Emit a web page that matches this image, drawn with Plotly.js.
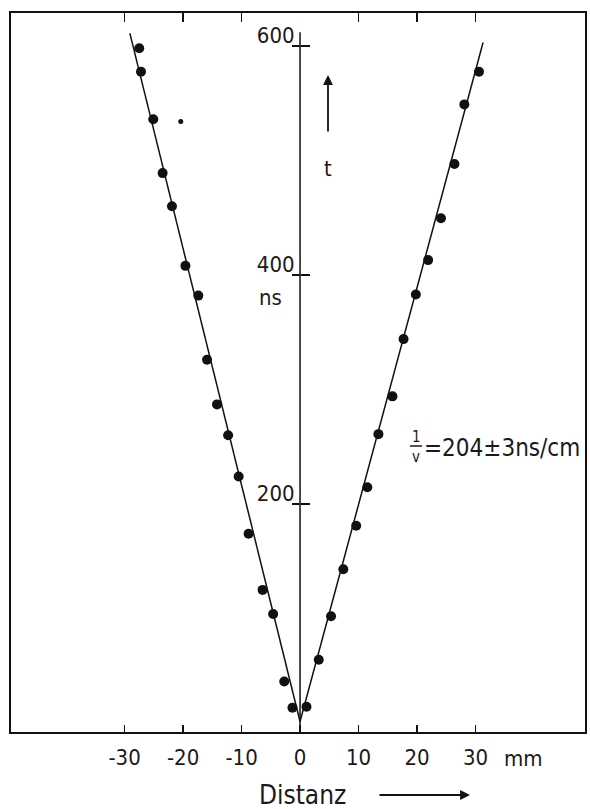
<!DOCTYPE html>
<html>
<head>
<meta charset="utf-8">
<script src="https://cdn.plot.ly/plotly-3.0.1.min.js"></script>
<style>html,body{margin:0;padding:0;background:#fff;}#chart{width:590px;height:809px;}</style>
</head>
<body>
<div id="chart"></div>
<script>
// ---- data (x in mm, t in ns) ----
var leftX  = [-27.5, -27.2, -25.1, -23.5, -21.9, -19.6, -17.4, -15.9, -14.2, -12.3, -10.5, -8.8, -6.4, -4.6, -2.7, -1.3];
var leftT  = [598, 577.5, 536, 489, 460, 408, 382, 326, 287, 260, 224, 174, 125, 104, 45, 22];
var rightX = [30.6, 28.1, 26.4, 24.1, 21.9, 19.8, 17.7, 15.8, 13.4, 11.5, 9.6, 7.4, 5.3, 3.2, 1.1];
var rightT = [577.5, 549, 497, 449.5, 413, 383, 344, 294, 261, 214.6, 181, 143, 102, 64, 23];
var strayX = [-20.4];
var strayT = [534];
var fitLeftX  = [0, -29.1];
var fitLeftT  = [10, 611];
var fitRightX = [0, 31.3];
var fitRightT = [10, 603];
var xTickVals = [-30, -20, -10, 0, 10, 20, 30];
var xTickText = ['-30', '-20', '-10', '0', '10', '20', '30'];
var xTopTickVals = [-30, -20, -10, 10, 20, 30];
var yTickVals = [200, 400, 600];
var yTickText = ['200', '400', '600'];

var FONT = '"DejaVu Sans Condensed", "Liberation Sans Narrow", "DejaVu Sans", sans-serif';
var INK = '#1a1a1a';
var xr = [-49.6, 48.9];
var yr = [0, 629.7];
var yPos = (0 - xr[0]) / (xr[1] - xr[0]);

// pixel -> paper helpers (plot area: x 10..586, y 12..733)
function px(x) { return (x - 10) / 576; }
function py(y) { return (733 - y) / 721; }

var dotStyle = {color: '#111', size: 10, symbol: 'circle'};
var traces = [
  {x: fitLeftX, y: fitLeftT, mode: 'lines', line: {color: '#111', width: 1.5}, xaxis: 'x2', yaxis: 'y2', hoverinfo: 'skip'},
  {x: fitRightX, y: fitRightT, mode: 'lines', line: {color: '#111', width: 1.5}, xaxis: 'x2', yaxis: 'y2', hoverinfo: 'skip'},
  {x: leftX, y: leftT, mode: 'markers', marker: dotStyle},
  {x: rightX, y: rightT, mode: 'markers', marker: dotStyle},
  {x: strayX, y: strayT, mode: 'markers', marker: {color: '#111', size: 5}}
];

var axBase = {showgrid: false, zeroline: false, fixedrange: true, tickcolor: '#111', tickwidth: 1.5};

function txt(x, y, text, size, extra) {
  return Object.assign({xref: 'paper', yref: 'paper', x: x, y: y, text: text, showarrow: false,
    xanchor: 'center', yanchor: 'middle', font: {size: size, family: FONT, color: INK}}, extra || {});
}

var layout = {
  width: 590, height: 809,
  margin: {l: 10, r: 4, t: 12, b: 76},
  paper_bgcolor: '#fff', plot_bgcolor: '#fff',
  showlegend: false,
  font: {family: FONT, color: INK},
  xaxis: Object.assign({}, axBase, {
    range: xr, showline: false, ticks: 'inside', ticklen: 8,
    tickvals: xTickVals, ticktext: xTickText, tickfont: {size: 22, family: FONT, color: INK},
    ticklabelstandoff: 9
  }),
  yaxis: Object.assign({}, axBase, {
    range: yr, anchor: 'free', position: yPos, side: 'left', showline: false,
    ticks: 'outside', ticklen: 8, tickvals: yTickVals, ticktext: yTickText,
    tickfont: {size: 22, family: FONT, color: INK},
    ticklabelshift: -11, ticklabelstandoff: -7
  }),
  xaxis2: Object.assign({}, axBase, {
    range: xr, overlaying: 'x', side: 'top', anchor: 'y2', showline: false,
    ticks: 'inside', ticklen: 10, tickvals: xTopTickVals, showticklabels: false
  }),
  yaxis2: Object.assign({}, axBase, {
    range: yr, overlaying: 'y', anchor: 'free', position: yPos, side: 'right', showline: false,
    ticks: 'outside', ticklen: 9, tickvals: yTickVals, showticklabels: false
  }),
  shapes: [
    {type: 'rect', xref: 'paper', yref: 'paper', x0: 0, x1: 1, y0: 0, y1: 1, line: {color: '#111', width: 2}},
    {type: 'line', xref: 'x', yref: 'y', x0: 0, x1: 0, y0: 0, y1: 612, line: {color: '#111', width: 1.5}},
    {type: 'line', xref: 'paper', yref: 'paper', x0: px(410), x1: px(422), y0: py(446), y1: py(446), line: {color: INK, width: 1.5}}
  ],
  annotations: [
    txt(px(270.5), py(297), 'ns', 22),
    txt(px(328), py(168), 't', 22),
    {xref: 'paper', yref: 'paper', x: px(328), y: py(75), ax: 0, ay: 58, text: '', showarrow: true,
     arrowhead: 2, arrowsize: 1.1, arrowwidth: 1.8, arrowcolor: '#111'},
    txt(px(523), py(758), 'mm', 22),
    txt(px(302), py(795), 'Distanz', 26),
    {xref: 'paper', yref: 'paper', x: px(470), y: py(795), ax: -92, ay: 0, text: '', showarrow: true,
     arrowhead: 2, arrowsize: 1.1, arrowwidth: 1.8, arrowcolor: '#111'},
    txt(px(422), py(448), '=204±3ns/cm', 24, {xanchor: 'left'}),
    txt(px(416), py(437), '1', 15),
    txt(px(416), py(457), 'v', 15)
  ]
};

Plotly.newPlot('chart', traces, layout, {staticPlot: true, displayModeBar: false});
</script>
</body>
</html>
